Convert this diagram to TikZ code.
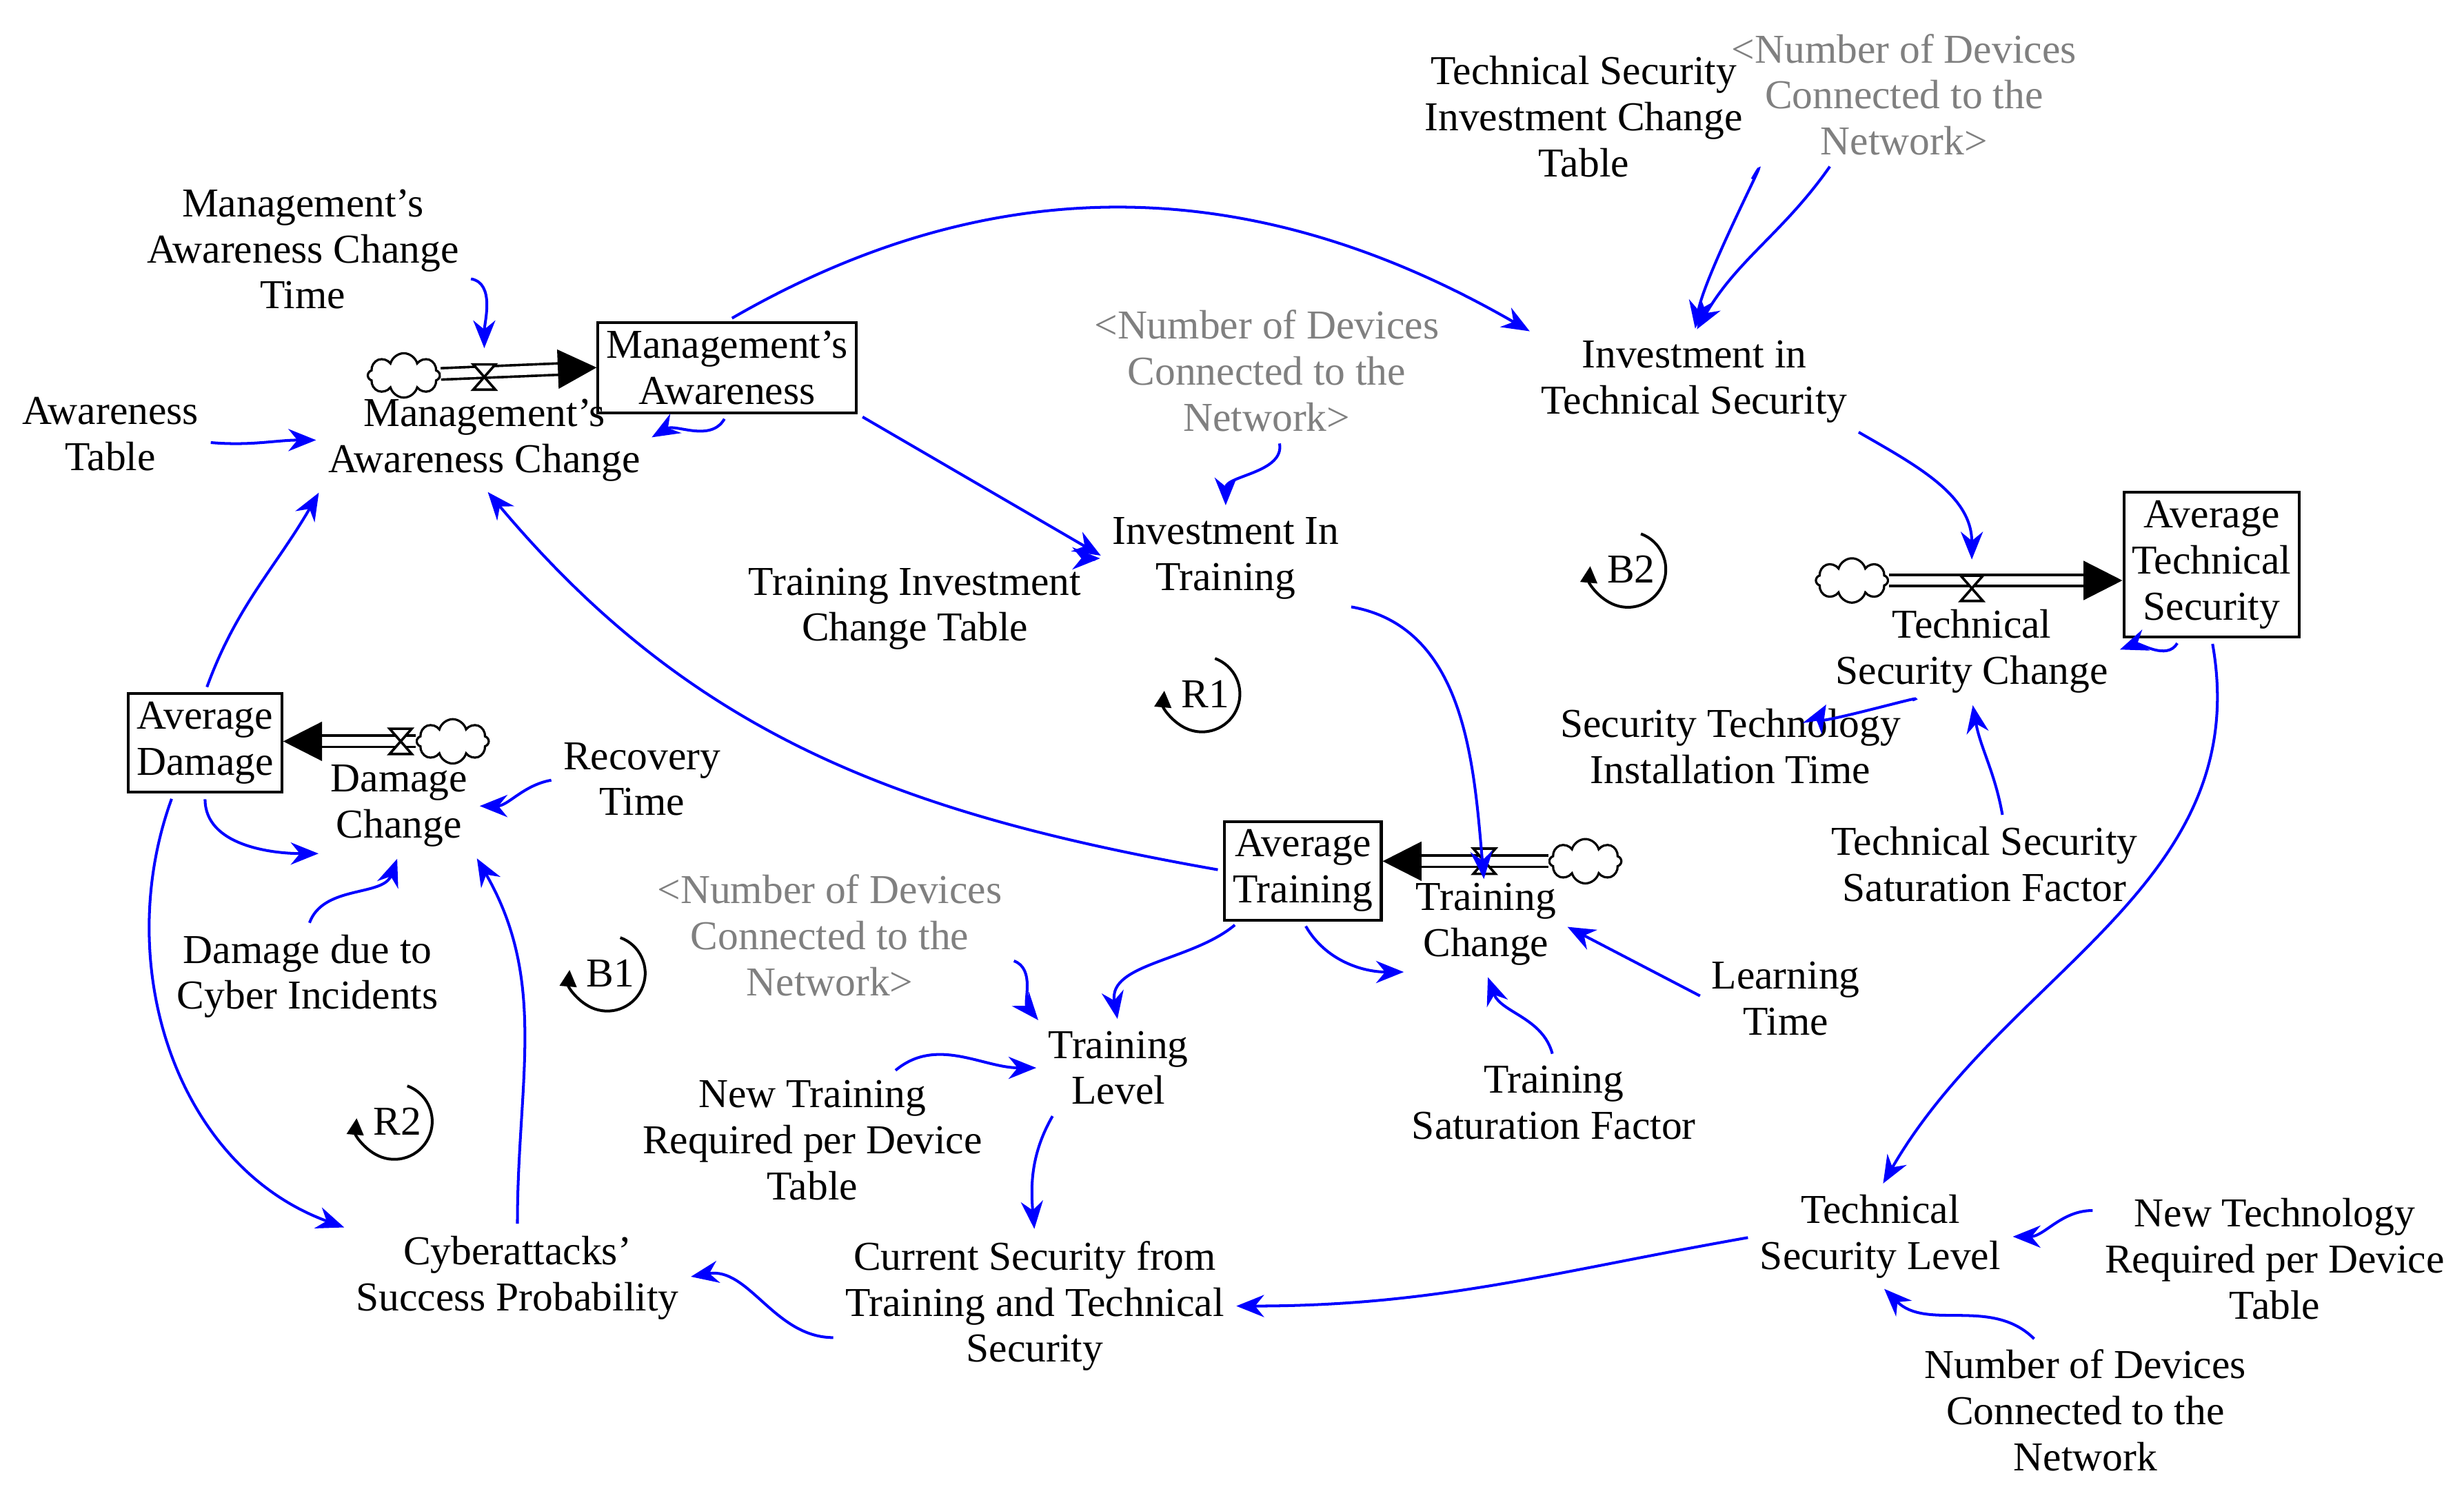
\documentclass[tikz,border=0pt]{standalone}
\usepackage{fontspec}
\setmainfont{Liberation Serif}
\usetikzlibrary{arrows.meta,shapes.symbols,calc}
\begin{document}
\begin{tikzpicture}[x=0.01cm,y=-0.01cm,
 every node/.style={font=\fontsize{7.4}{8.3}\selectfont,align=center,inner sep=1pt},
 gv/.style={text=black!50},
 stock/.style={draw,line width=0.5pt,inner sep=1.5pt},
 lnk/.style={blue,line width=0.5pt,-{Stealth[length=5pt,width=4pt]},shorten >=1pt,shorten <=1pt},
 flow/.style={double,double distance=1.6pt,line width=0.45pt,-{Triangle[length=7pt,width=7pt]}},
 cl/.style={cloud,draw,cloud puffs=8,minimum width=13pt,minimum height=8pt,inner sep=0pt,aspect=1.5,line width=0.4pt},
 vl/.style={inner sep=0pt,minimum size=8pt},
 loopm/.pic={\draw[line width=0.5pt,-{Triangle[length=3pt,width=3pt]}] (-70:24) arc(-70:185:24);}
]
\useasboundingbox (0,0) rectangle (1562,944);
% stocks
\node[stock] (MA) at (461,233) {Management's\\Awareness};
\node[stock] (ATS) at (1402,358) {Average\\Technical\\Security};
\node[stock] (AD) at (130,471) {Average\\Damage};
\node[stock] (AvT) at (826,552) {Average\\Training};
% clouds
\node[cl] (cMA) at (256,238) {};
\node[cl] (cTS) at (1174,368) {};
\node[cl] (cAD) at (287,470) {};
\node[cl] (cAT) at (1005,546) {};
% valves
\node[vl] (vMA) at (307,239) {};
\node[vl] (vTS) at (1250,373) {};
\node[vl] (vAD) at (254,470) {};
\node[vl] (vAT) at (941,546) {};
% flows
\draw[flow] (cMA) -- (MA.west);
\draw[flow] (cTS) -- (ATS.west|-cTS);
\draw[flow] (cAD) -- (AD.east|-cAD);
\draw[flow] (cAT) -- (AvT.east|-cAT);
\foreach \v in {vMA,vTS,vAD,vAT}{
 \draw[line width=0.45pt,fill=white] ($(\v)+(-7,-8)$) -- ++(14,0) -- ++(-14,16) -- ++(14,0) -- cycle;}
% variables
\node (MAT) at (192,158) {Management's\\Awareness Change\\Time};
\node (AT) at (70,275) {Awareness\\Table};
\node (MAC) at (307,279) {Management's\\Awareness Change};
\node (TSICT) at (1004,74) {Technical Security\\Investment Change\\Table};
\node[gv] (N1) at (1207,60) {<Number of Devices\\Connected to the\\Network>};
\node (ITS) at (1074,242) {Investment in\\Technical Security};
\node[gv] (N2) at (803,235) {<Number of Devices\\Connected to the\\Network>};
\node (IIT) at (777,354) {Investment In\\Training};
\node (TICT) at (580,386) {Training Investment\\Change Table};
\node (TSC) at (1250,413) {Technical\\Security Change};
\node (STIT) at (1097,473) {Security Technology\\Installation Time};
\node (TSSF) at (1258,548) {Technical Security\\Saturation Factor};
\node (DC) at (253,511) {Damage\\Change};
\node (RT) at (407,494) {Recovery\\Time};
\node (DCI) at (195,619) {Damage due to\\Cyber Incidents};
\node (TC) at (942,586) {Training\\Change};
\node (LT) at (1132,633) {Learning\\Time};
\node (TSF) at (985,699) {Training\\Saturation Factor};
\node[gv] (N3) at (526,593) {<Number of Devices\\Connected to the\\Network>};
\node (TL) at (709,677) {Training\\Level};
\node (NTR) at (515,723) {New Training\\Required per Device\\Table};
\node (CS) at (656,828) {Current Security from\\Training and Technical\\Security};
\node (CSP) at (328,810) {Cyberattacks'\\Success Probability};
\node (TSL) at (1192,784) {Technical\\Security Level};
\node (NTech) at (1442,798) {New Technology\\Required per Device\\Table};
\node (N4) at (1322,894) {Number of Devices\\Connected to the\\Network};
% loops
\pic at (762,440) {loopm}; \node at (764,440) {R1};
\pic at (1032,361) {loopm}; \node at (1034,361) {B2};
\pic at (385,617) {loopm}; \node at (387,617) {B1};
\pic at (250,711) {loopm}; \node at (252,711) {R2};
% links
\draw[lnk] (MAT) to[out=-10,in=90] (vMA.north);
\draw[lnk] (AT) to[out=-5,in=180] (MAC);
\draw[lnk] (MA.south) to[out=-120,in=30] (MAC.east);
\draw[lnk] (MA.south east) to (IIT.west);
\draw[lnk] (MA.north) to[out=30,in=150] (ITS.north west);
\draw[lnk] (TSICT.south east) to[out=60,in=80] (ITS.north);
\draw[lnk] (N1.south) ++(-45,0) to[out=-125,in=60] (ITS.north);
\draw[lnk] (N2) to[out=-80,in=90] (IIT.north);
\draw[lnk] (TICT.north east) to[out=15,in=180] (IIT.west);
\draw[lnk] (IIT.south east) to[out=-10,in=95] (vAT.south);
\draw[lnk] (ITS.south east) to[out=-30,in=90] (vTS.north);
\draw[lnk] (ATS.south) ++(-20,0) to[out=-120,in=20] (TSC.east);
\draw[lnk] (STIT.north east) to[out=20,in=-120] (TSC.south west);
\draw[lnk] (TSSF.north) ++(12,0) to[out=100,in=-80] (TSC.south);
\draw[lnk] (ATS.south) to[out=-80,in=60] (TSL.north);
\draw[lnk] (NTech.north west) ++(0,12) to[out=180,in=0] (TSL.east);
\draw[lnk] (N4.north) ++(-30,0) to[out=135,in=-45] (TSL.south);
\draw[lnk] (TSL.west) to[out=190,in=0] (CS.east);
\draw[lnk] (CS.west) ++(0,20) to[out=180,in=10] (CSP.east);
\draw[lnk] (TL.south) ++(-40,0) to[out=-120,in=95] (CS.north);
\draw[lnk] (N3.east) ++(0,15) to[out=-20,in=130] (TL.north west);
\draw[lnk] (NTR.north) ++(50,0) to[out=40,in=180] (TL.west);
\draw[lnk] (AvT.south west) ++(10,0) to[out=-140,in=100] (TL.north);
\draw[lnk] (AvT.south) to[out=-60,in=180] (TC.south west);
\draw[lnk] (LT.west) to (TC.east);
\draw[lnk] (TSF.north) to[out=105,in=-70] (TC.south);
\draw[lnk] (AvT.west) to[out=170,in=-50] (MAC.south);
\draw[lnk] (AD.north) to[out=70,in=-120] (MAC.south west);
\draw[lnk] (AD.south) to[out=-90,in=180] (DC.south west);
\draw[lnk] (AD.south) ++(-20,0) to[out=-110,in=160] (CSP.north west);
\draw[lnk] (RT.west) to[out=190,in=0] (DC.east);
\draw[lnk] (DCI.north) to[out=70,in=-110] (DC.south);
\draw[lnk] (CSP.north) to[out=90,in=-60] (DC.south east);
\end{tikzpicture}
\end{document}
